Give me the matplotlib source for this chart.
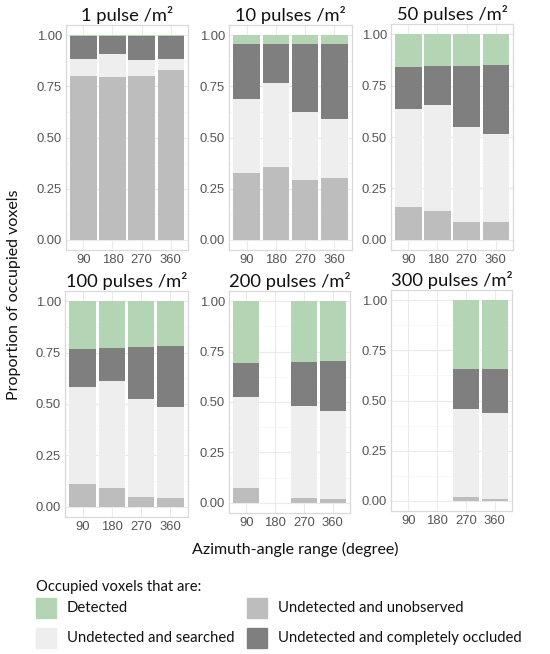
import matplotlib
matplotlib.use("Agg")
import matplotlib.pyplot as plt
from matplotlib.patches import Rectangle
import numpy as np

# ---- data ----
angles = ["90", "180", "270", "360"]
titles = ["1 pulse /m²", "10 pulses /m²", "50 pulses /m²",
          "100 pulses /m²", "200 pulses /m²", "300 pulses /m²"]
yticks = [0.00, 0.25, 0.50, 0.75, 1.00]
ytick_labels = ["0.00", "0.25", "0.50", "0.75", "1.00"]

# proportions per panel, per azimuth (None = no data)
unobserved = [
    [0.803, 0.795, 0.802, 0.830],
    [0.328, 0.356, 0.290, 0.303],
    [0.161, 0.140, 0.086, 0.085],
    [0.110, 0.089, 0.049, 0.044],
    [0.073, None, 0.026, 0.018],
    [None, None, 0.020, 0.012],
]
searched = [
    [0.081, 0.113, 0.078, 0.054],
    [0.361, 0.410, 0.333, 0.286],
    [0.473, 0.518, 0.461, 0.428],
    [0.474, 0.521, 0.474, 0.443],
    [0.452, None, 0.455, 0.438],
    [None, None, 0.438, 0.427],
]
occluded = [
    [0.113, 0.089, 0.117, 0.113],
    [0.268, 0.191, 0.336, 0.370],
    [0.205, 0.186, 0.300, 0.339],
    [0.185, 0.165, 0.254, 0.296],
    [0.166, None, 0.218, 0.246],
    [None, None, 0.200, 0.219],
]
detected = [
    [0.003, 0.003, 0.003, 0.003],
    [0.043, 0.043, 0.041, 0.041],
    [0.161, 0.156, 0.153, 0.148],
    [0.231, 0.225, 0.223, 0.217],
    [0.309, None, 0.301, 0.298],
    [None, None, 0.342, 0.342],
]
legend_labels = ["Detected", "Undetected and searched",
                 "Undetected and unobserved", "Undetected and completely occluded"]

# ---- style ----
C_DET = "#b3d5b3"
C_SEA = "#eeeeee"
C_UNO = "#bdbdbd"
C_OCC = "#7f7f7f"
TXT = "Lato"

W, H = 550, 654
fig = plt.figure(figsize=(W / 100, H / 100), dpi=100)

# axes boxes in pixels (left, top, right, bottom)
boxes = [
    (66, 25, 188, 250),
    (229, 25, 352, 250),
    (391, 24, 513, 250),
    (65, 291, 188, 517),
    (229, 291, 350, 513),
    (391, 290, 512, 511),
]

segments = [(unobserved, C_UNO), (searched, C_SEA), (occluded, C_OCC), (detected, C_DET)]

for p, (l, t, r, b) in enumerate(boxes):
    ax = fig.add_axes([l / W, 1 - b / H, (r - l) / W, (b - t) / H])
    x = np.arange(len(angles))
    bottoms = np.zeros(len(angles))
    for series, col in segments:
        vals = np.array([v if v is not None else 0.0 for v in series[p]])
        mask = np.array([v is not None for v in series[p]])
        ax.bar(x[mask], vals[mask], bottom=bottoms[mask], width=0.9,
               color=col, linewidth=0, zorder=2)
        bottoms = bottoms + vals
    ax.set_xlim(-0.6, 3.6)
    ax.set_ylim(-0.05, 1.05)
    ax.set_xticks(x)
    ax.set_xticklabels(angles)
    ax.set_yticks(yticks)
    ax.set_yticklabels(ytick_labels)
    ax.set_yticks([0.125, 0.375, 0.625, 0.875], minor=True)
    ax.grid(True, which="major", color="#ebebeb", linewidth=0.8, zorder=0)
    ax.grid(True, which="minor", axis="y", color="#f4f4f4", linewidth=0.5, zorder=0)
    ax.set_axisbelow(True)
    for s in ax.spines.values():
        s.set_color("#d9d9d9")
        s.set_linewidth(0.9)
    ax.tick_params(axis="both", which="both", length=0, labelsize=9.4,
                   labelcolor="#555555", pad=3)
    for lab in ax.get_xticklabels() + ax.get_yticklabels():
        lab.set_family("Liberation Sans")
    ax.set_title(titles[p], fontsize=13.2, family=TXT, color="#111111", pad=3)

fig.text(14 / W, 1 - 295 / H, "Proportion of occupied voxels", rotation=90,
         ha="center", va="center", fontsize=11.5, family=TXT, color="#111111")
fig.text(295 / W, 1 - 549 / H, "Azimuth-angle range (degree)",
         ha="center", va="center", fontsize=11.5, family=TXT, color="#111111")

# legend
fig.text(36 / W, 1 - 587 / H, "Occupied voxels that are:", ha="left", va="center",
         fontsize=10.6, family=TXT, color="#111111")
leg_items = [
    (36, 608, C_DET, legend_labels[0]),
    (36, 638, C_SEA, legend_labels[1]),
    (247, 608, C_UNO, legend_labels[2]),
    (247, 638, C_OCC, legend_labels[3]),
]
for (px, py, col, lab) in leg_items:
    fig.patches.append(Rectangle((px / W, 1 - (py + 10) / H), 20 / W, 20 / H,
                                 transform=fig.transFigure, color=col, zorder=3))
    fig.text((px + 31) / W, 1 - py / H, lab, ha="left", va="center",
             fontsize=10.7, family=TXT, color="#111111")

fig.savefig("out.png", dpi=100, facecolor="white")
